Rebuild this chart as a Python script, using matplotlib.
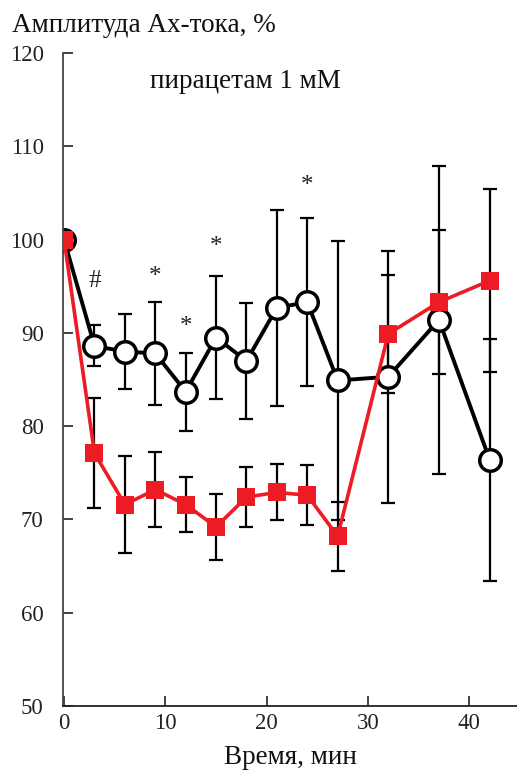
import numpy as np
import matplotlib
matplotlib.use("Agg")
import matplotlib.pyplot as plt

plt.rcParams['font.family'] = ['Liberation Serif', 'DejaVu Serif']

# time, min
t_black = [0, 3, 6, 9, 12, 15, 18, 21, 24, 27, 32, 37, 42]
t_red = [0, 3, 6, 9, 12, 15, 18, 21, 24, 27, 32, 37, 42]

# open circles (control)
y_black = [100, 88.6, 88.0, 87.8, 83.7, 89.5, 87.0, 92.7, 93.3, 84.9, 85.3, 91.4, 76.4]
e_black = [0, 2.2, 4.0, 5.5, 4.2, 6.6, 6.2, 10.5, 9.0, 15.0, 13.5, 16.5, 13.0]

# red squares (piracetam 1 mM)
y_red = [100, 77.1, 71.6, 73.2, 71.6, 69.2, 72.4, 72.9, 72.6, 68.2, 89.9, 93.3, 95.6]
e_red = [0, 5.9, 5.2, 4.0, 2.9, 3.5, 3.2, 3.0, 3.2, 3.7, 6.3, 7.7, 9.8]

# significance marks
marks = ['#', '*', '*', '*', '*']
mark_x = [3, 9, 12, 15, 24]
mark_y = [95.6, 96.0, 90.6, 99.2, 105.8]

red = '#ED1C24'

fig = plt.figure(figsize=(5.17, 7.75), dpi=100)
ax = fig.add_axes([0.122, 0.089, 0.878, 0.8425])

ax.errorbar(t_black[1:], y_black[1:], yerr=e_black[1:], fmt='none', ecolor='black',
            elinewidth=1.6, capsize=4.7, capthick=1.6, zorder=1)
ax.errorbar(t_red[1:], y_red[1:], yerr=e_red[1:], fmt='none', ecolor='black',
            elinewidth=1.6, capsize=4.7, capthick=1.6, zorder=1)
ax.plot(t_black, y_black, '-o', color='black', lw=2.8, ms=15.5, mfc='white',
        mec='black', mew=2.5, zorder=2)
ax.plot(t_red, y_red, '-s', color=red, lw=2.6, ms=13.5, mfc=red, mec=red,
        mew=0, zorder=3)

for m, x, y in zip(marks, mark_x, mark_y):
    ax.text(x, y, m, ha='center', va='center', fontsize=18, color='#222222')

ax.text(17.9, 117.0, 'пирацетам 1 мМ', ha='center', va='center', fontsize=19.5,
        color='#111111')

ax.set_xlim(-0.1, 44.7)
ax.set_ylim(50, 120)
ax.set_xticks([0, 10, 20, 30, 40])
ax.set_yticks([50, 60, 70, 80, 90, 100, 110, 120])
ax.tick_params(direction='in', length=7, width=1.2, labelsize=16.5, colors='#222222')
ax.tick_params(axis='x', pad=5)
ax.tick_params(axis='y', pad=14)
for s in ['top', 'right']:
    ax.spines[s].set_visible(False)
ax.spines['left'].set_color('#444444')
ax.spines['bottom'].set_color('#222222')
ax.spines['left'].set_linewidth(1.3)
ax.spines['bottom'].set_linewidth(1.3)

fig.text(0.023, 0.967, 'Амплитуда Ах-тока, %', ha='left', va='center', fontsize=19.5,
         color='#111111')
ax.set_xlabel('Время, мин', fontsize=19.5, labelpad=8, color='#111111')

fig.savefig('out.png', dpi=100)
